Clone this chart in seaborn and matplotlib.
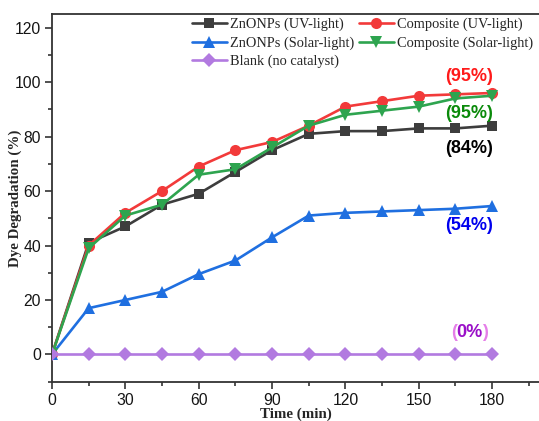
import numpy as np
import pandas as pd
import matplotlib
matplotlib.use("Agg")
import matplotlib.pyplot as plt
from matplotlib.ticker import MultipleLocator
import seaborn as sns

# Irradiation time (min)
time_min = [0, 15, 30, 45, 60, 75, 90, 105, 120, 135, 150, 165, 180]

# Dye degradation (%) for each catalyst / light source
zno_uv = [0, 41, 47, 55, 59, 67, 75, 81, 82, 82, 83, 83, 84]
comp_uv = [0, 40, 52, 60, 69, 75, 78, 84, 91, 93, 95, 95.5, 96]
zno_solar = [0, 17, 20, 23, 29.5, 34.5, 43, 51, 52, 52.5, 53, 53.5, 54.5]
comp_solar = [0, 39, 51, 55, 66, 68, 76, 84, 88, 89.5, 91, 94, 95]
blank = [0] * 13

series_names = ["ZnONPs (UV-light)", "Composite (UV-light)",
                "ZnONPs (Solar-light)", "Composite (Solar-light)",
                "Blank (no catalyst)"]
series_values = [zno_uv, comp_uv, zno_solar, comp_solar, blank]
series_colors = ["#3d3d3d", "#f23a3a", "#1f6fe0", "#2ea44f", "#b27ae0"]
series_markers = ["s", "o", "^", "v", "D"]
series_msize = [7, 8, 8, 8, 7]

# Final-value labels
label_texts = ["(95%)", "(95%)", "(84%)", "(54%)"]
label_y = [102.0, 88.5, 75.5, 47.5]
label_colors = ["#ff1a1a", "#0a8a0a", "#000000", "#0000ee"]

frames = []
for name, vals in zip(series_names, series_values):
    frames.append(pd.DataFrame({"Time": time_min, "Degradation": vals, "Series": name}))
df = pd.concat(frames, ignore_index=True)

sns.set_style("ticks")
plt.rcParams["font.family"] = ["Liberation Sans", "DejaVu Sans"]

fig = plt.figure(figsize=(5.39, 4.21), dpi=100)
ax = fig.add_axes([52 / 539, 1 - 381.7 / 421, 1 - 52 / 539 + 0.002, (381.7 - 14) / 421])

for name, color, marker, ms in zip(series_names, series_colors, series_markers, series_msize):
    sub = df[df["Series"] == name]
    sns.lineplot(data=sub, x="Time", y="Degradation", ax=ax, color=color,
                 marker=marker, markersize=ms, markeredgewidth=0,
                 linewidth=1.9, label=name, zorder=3)

ax.set_xlim(0, 199.6)
ax.set_ylim(-10, 125)
ax.xaxis.set_major_locator(MultipleLocator(30))
ax.xaxis.set_minor_locator(MultipleLocator(15))
ax.yaxis.set_major_locator(MultipleLocator(20))
ax.yaxis.set_minor_locator(MultipleLocator(10))
ax.tick_params(which="major", direction="out", length=5, width=1.1, labelsize=11.3, colors="#222222")
ax.tick_params(which="minor", direction="out", length=3, width=1.1, colors="#222222")
ax.tick_params(axis="both", labelcolor="#151515", pad=3)
for side in ["left", "bottom", "top", "right"]:
    ax.spines[side].set_linewidth(1.3)
    ax.spines[side].set_color("#333333")

ax.set_xlabel("Time (min)", family="Liberation Serif", fontweight="bold", fontsize=10.8, labelpad=0)
ax.set_ylabel("Dye Degradation (%)", family="Liberation Serif", fontweight="bold", fontsize=10.8)
ax.yaxis.set_label_coords(-0.062, 0.5)

# Legend in two columns
handles, labels = ax.get_legend_handles_labels()
order = [0, 2, 4, 1, 3]
ax.legend([handles[i] for i in order], [labels[i] for i in order],
          ncol=2, frameon=False, loc="upper left", bbox_to_anchor=(0.279, 1.0),
          prop={"family": "Liberation Serif", "size": 10.4},
          handlelength=2.45, handletextpad=0.2, columnspacing=0.3, labelspacing=0.36,
          borderaxespad=0.0, borderpad=0.25)

for txt, y, c in zip(label_texts, label_y, label_colors):
    ax.text(180.5, y, txt, color=c, fontsize=13, fontweight="bold", ha="right", va="center",
            family="Liberation Sans")

# Blank label: pink brackets around a purple value
ax.text(164.6, 8.2, "(", color="#e57ee8", fontsize=13, fontweight="bold", ha="center", va="center")
ax.text(170.8, 8.2, "0%", color="#9a10c8", fontsize=13, fontweight="bold", ha="center", va="center")
ax.text(177.0, 8.2, ")", color="#e57ee8", fontsize=13, fontweight="bold", ha="center", va="center")

fig.savefig("out.png", dpi=100)
